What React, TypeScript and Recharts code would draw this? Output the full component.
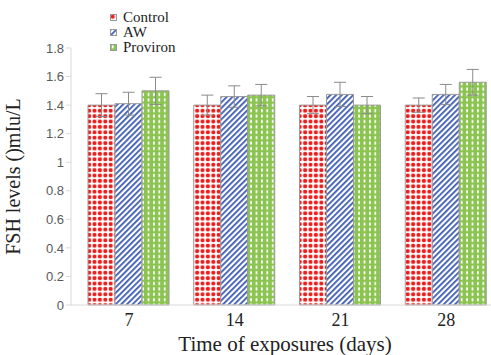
import React from "react";
import { BarChart, Bar, XAxis, YAxis, ErrorBar, Label } from "recharts";

const categories = ["7", "14", "21", "28"];
const controlValues = [1.4, 1.4, 1.4, 1.4];
const awValues = [1.41, 1.46, 1.475, 1.475];
const provironValues = [1.5, 1.47, 1.4, 1.56];
const controlErr = [0.08, 0.07, 0.06, 0.05];
const awErr = [0.08, 0.075, 0.085, 0.07];
const provironErr = [0.095, 0.075, 0.06, 0.09];
const yTicks = [0, 0.2, 0.4, 0.6, 0.8, 1, 1.2, 1.4, 1.6, 1.8];
const seriesNames = ["Control", "AW", "Proviron"];

const data = categories.map((c, i) => ({
  day: c,
  control: controlValues[i],
  aw: awValues[i],
  proviron: provironValues[i],
  controlErr: controlErr[i],
  awErr: awErr[i],
  provironErr: provironErr[i],
}));

const serif = "'Liberation Serif', 'Times New Roman', serif";
const sans = "'Liberation Sans', Arial, sans-serif";

const Patterns = ({ prefix }: { prefix: string }) => (
  <defs>
    <pattern id={`${prefix}ctrl`} patternUnits="userSpaceOnUse" width="5.4" height="5.4">
      <rect width="5.4" height="5.4" fill="#ffffff" />
      <circle cx="2.7" cy="2.7" r="2.1" fill="#f01c1c" />
    </pattern>
    <pattern id={`${prefix}aw`} patternUnits="userSpaceOnUse" width="4" height="4" patternTransform="rotate(45)">
      <rect width="4" height="4" fill="#ffffff" />
      <rect x="0" y="0" width="1.8" height="4" fill="#3d5cb3" />
    </pattern>
    <pattern id={`${prefix}prov`} patternUnits="userSpaceOnUse" width="5.4" height="5.4">
      <rect width="5.4" height="5.4" fill="#8cc452" />
      <rect x="1.8" y="1.2" width="1.8" height="3" fill="#ffffff" />
    </pattern>
  </defs>
);

const legendIds = ["ctrl", "aw", "prov"];

const LegendBox = () => (
  <div
    style={{
      position: "absolute",
      left: 110,
      top: 10,
      fontFamily: serif,
      fontSize: 15,
      color: "#222",
      lineHeight: "15px",
    }}
  >
    {seriesNames.map((n, i) => (
      <div key={n} style={{ display: "flex", alignItems: "center", height: 15 }}>
        <svg width={7} height={7} style={{ marginRight: 6 }}>
          <Patterns prefix={`lg${i}`} />
          <rect x={0.5} y={0.5} width={6} height={6} fill={`url(#lg${i}${legendIds[i]})`} stroke="#999" strokeWidth={1} />
        </svg>
        <span>{n}</span>
      </div>
    ))}
  </div>
);

export default function App() {
  return (
    <div style={{ position: "absolute", left: 0, top: 0, width: 500, height: 355, background: "#fff" }}>
      <BarChart
        width={500}
        height={355}
        data={data}
        margin={{ top: 48, right: 1, left: 0, bottom: 0 }}
        barCategoryGap={12}
        barGap={0}
      >
        <Patterns prefix="" />
        <YAxis
          width={71}
          domain={[0, 1.8]}
          ticks={yTicks}
          interval={0}
          axisLine={{ stroke: "#d9d9d9" }}
          tickLine={{ stroke: "#d9d9d9" }}
          tickSize={5}
          tick={{ fill: "#595959", fontSize: 13, fontFamily: sans }}
        >
          <Label
            value="FSH levels ()mIu/L"
            angle={-90}
            position="insideLeft"
            offset={13}
            style={{ fontFamily: serif, fontSize: 20, fill: "#222", textAnchor: "middle" }}
          />
        </YAxis>
        <XAxis
          dataKey="day"
          height={50}
          padding={{ left: 5, right: 0 }}
          axisLine={{ stroke: "#d9d9d9" }}
          tickLine={false}
          tickMargin={2}
          tick={{ fill: "#222", fontSize: 18, fontFamily: serif }}
        >
          <Label
            value="Time of exposures (days)"
            position="insideBottom"
            offset={4}
            style={{ fontFamily: serif, fontSize: 21, fill: "#222" }}
          />
        </XAxis>
        <Bar dataKey="control" name="Control" fill="url(#ctrl)" stroke="#9a9a9a" strokeWidth={1} isAnimationActive={false}>
          <ErrorBar dataKey="controlErr" width={6} stroke="#8a8a8a" strokeWidth={1} />
        </Bar>
        <Bar dataKey="aw" name="AW" fill="url(#aw)" stroke="#9a9a9a" strokeWidth={1} isAnimationActive={false}>
          <ErrorBar dataKey="awErr" width={6} stroke="#8a8a8a" strokeWidth={1} />
        </Bar>
        <Bar dataKey="proviron" name="Proviron" fill="url(#prov)" stroke="#9a9a9a" strokeWidth={1} isAnimationActive={false}>
          <ErrorBar dataKey="provironErr" width={6} stroke="#8a8a8a" strokeWidth={1} />
        </Bar>
      </BarChart>
      <LegendBox />
    </div>
  );
}
